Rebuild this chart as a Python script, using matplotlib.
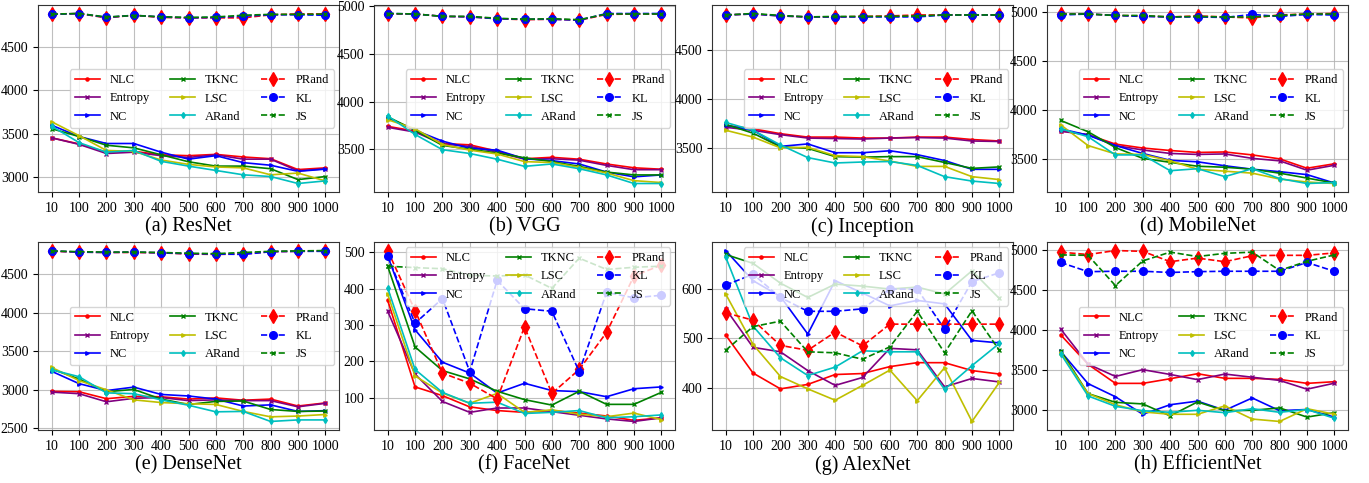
import matplotlib
matplotlib.use("Agg")
import matplotlib.pyplot as plt

plt.rcParams['font.family'] = ['Liberation Serif', 'DejaVu Serif']

x_labels = ['10', '100', '200', '300', '400', '500', '600', '700', '800', '900', '1000']
methods = ['NLC', 'Entropy', 'NC', 'TKNC', 'LSC', 'ARand', 'PRand', 'KL', 'JS']
titles = ['(a) ResNet', '(b) VGG', '(c) Inception', '(d) MobileNet',
          '(e) DenseNet', '(f) FaceNet', '(g) AlexNet', '(h) EfficientNet']

resnet = {
    'NLC':     [3455, 3385, 3290, 3300, 3260, 3250, 3265, 3235, 3215, 3090, 3110],
    'Entropy': [3455, 3380, 3275, 3290, 3250, 3230, 3260, 3210, 3210, 3075, 3100],
    'NC':      [3600, 3470, 3390, 3390, 3290, 3210, 3250, 3170, 3140, 3070, 3095],
    'TKNC':    [3560, 3470, 3370, 3340, 3260, 3180, 3130, 3130, 3100, 2975, 3010],
    'LSC':     [3640, 3480, 3310, 3300, 3200, 3150, 3120, 3110, 3030, 3050, 2960],
    'ARand':   [3590, 3400, 3290, 3310, 3185, 3130, 3080, 3030, 3010, 2930, 2960],
    'PRand':   [4875, 4885, 4835, 4865, 4840, 4835, 4835, 4835, 4870, 4880, 4880],
    'KL':      [4875, 4885, 4840, 4865, 4845, 4835, 4840, 4855, 4870, 4870, 4865],
    'JS':      [4878, 4885, 4845, 4862, 4848, 4840, 4845, 4865, 4875, 4875, 4878],
}
vgg = {
    'NLC':     [3740, 3690, 3560, 3546, 3480, 3400, 3415, 3395, 3345, 3305, 3290],
    'Entropy': [3730, 3680, 3555, 3530, 3470, 3395, 3400, 3385, 3330, 3285, 3285],
    'NC':      [3830, 3700, 3585, 3510, 3490, 3400, 3380, 3345, 3260, 3210, 3230],
    'TKNC':    [3840, 3700, 3540, 3500, 3460, 3410, 3370, 3320, 3260, 3230, 3230],
    'LSC':     [3810, 3715, 3550, 3490, 3450, 3370, 3360, 3310, 3250, 3170, 3150],
    'ARand':   [3850, 3655, 3495, 3455, 3395, 3320, 3345, 3295, 3230, 3140, 3140],
    'PRand':   [4920, 4920, 4895, 4890, 4870, 4860, 4865, 4855, 4915, 4920, 4920],
    'KL':      [4925, 4920, 4895, 4890, 4870, 4865, 4865, 4855, 4925, 4925, 4925],
    'JS':      [4925, 4920, 4895, 4895, 4875, 4865, 4870, 4860, 4920, 4920, 4920],
}
inception = {
    'NLC':     [3730, 3695, 3645, 3610, 3610, 3600, 3600, 3610, 3610, 3585, 3570],
    'Entropy': [3710, 3680, 3635, 3600, 3595, 3590, 3600, 3605, 3600, 3570, 3565],
    'NC':      [3730, 3680, 3515, 3540, 3450, 3450, 3470, 3430, 3370, 3280, 3280],
    'TKNC':    [3740, 3650, 3510, 3495, 3410, 3405, 3410, 3410, 3350, 3290, 3305],
    'LSC':     [3680, 3610, 3500, 3505, 3420, 3410, 3365, 3310, 3310, 3205, 3175],
    'ARand':   [3760, 3680, 3530, 3400, 3345, 3355, 3360, 3320, 3205, 3160, 3135],
    'PRand':   [4860, 4870, 4850, 4840, 4840, 4845, 4850, 4860, 4860, 4860, 4860],
    'KL':      [4860, 4870, 4850, 4840, 4840, 4840, 4840, 4840, 4860, 4860, 4860],
    'JS':      [4860, 4875, 4855, 4840, 4845, 4845, 4845, 4850, 4860, 4860, 4860],
}
mobilenet = {
    'NLC':     [3790, 3750, 3655, 3615, 3590, 3570, 3575, 3545, 3505, 3410, 3455],
    'Entropy': [3785, 3750, 3640, 3595, 3560, 3550, 3555, 3510, 3485, 3390, 3440],
    'NC':      [3810, 3745, 3640, 3560, 3490, 3475, 3435, 3400, 3375, 3345, 3260],
    'TKNC':    [3895, 3780, 3620, 3510, 3470, 3430, 3420, 3400, 3360, 3310, 3260],
    'LSC':     [3850, 3640, 3555, 3550, 3485, 3400, 3380, 3360, 3300, 3270, 3255],
    'ARand':   [3810, 3730, 3545, 3545, 3385, 3405, 3325, 3405, 3305, 3255, 3265],
    'PRand':   [4975, 4975, 4960, 4955, 4945, 4955, 4945, 4935, 4965, 4975, 4980],
    'KL':      [4965, 4975, 4960, 4950, 4945, 4945, 4940, 4970, 4950, 4970, 4965],
    'JS':      [4975, 4975, 4960, 4960, 4945, 4950, 4945, 4945, 4960, 4975, 4975],
}
densenet = {
    'NLC':     [2980, 2975, 2885, 2915, 2910, 2880, 2895, 2865, 2880, 2790, 2830],
    'Entropy': [2970, 2950, 2845, 2890, 2900, 2860, 2870, 2860, 2860, 2780, 2825],
    'NC':      [3240, 3080, 2990, 3035, 2940, 2920, 2880, 2790, 2805, 2720, 2730],
    'TKNC':    [3270, 3140, 2975, 3005, 2880, 2810, 2850, 2855, 2745, 2720, 2725],
    'LSC':     [3290, 3120, 3000, 2870, 2835, 2820, 2810, 2720, 2650, 2660, 2680],
    'ARand':   [3260, 3170, 2960, 2950, 2870, 2800, 2715, 2720, 2590, 2610, 2610],
    'PRand':   [4795, 4785, 4780, 4780, 4775, 4760, 4755, 4760, 4790, 4795, 4800],
    'KL':      [4800, 4785, 4780, 4785, 4775, 4765, 4760, 4755, 4790, 4795, 4795],
    'JS':      [4800, 4790, 4785, 4785, 4780, 4770, 4765, 4780, 4795, 4800, 4805],
}
facenet = {
    'NLC':     [368, 130, 106, 75, 65, 60, 65, 58, 50, 38, 45],
    'Entropy': [338, 165, 90, 60, 72, 72, 62, 52, 42, 35, 45],
    'NC':      [490, 287, 198, 168, 113, 140, 120, 117, 103, 125, 130],
    'TKNC':    [462, 240, 175, 152, 118, 95, 80, 118, 82, 82, 115],
    'LSC':     [385, 160, 113, 85, 112, 60, 67, 55, 48, 58, 40],
    'ARand':   [402, 178, 115, 85, 88, 57, 60, 65, 45, 48, 53],
    'PRand':   [505, 340, 168, 140, 97, 295, 112, 178, 280, 435, 465],
    'KL':      [490, 305, 373, 172, 423, 345, 338, 172, 390, 375, 382],
    'JS':      [462, 458, 455, 437, 435, 438, 401, 484, 453, 459, 462],
}
alexnet = {
    'NLC':     [507, 430, 398, 407, 427, 429, 443, 451, 451, 435, 428],
    'Entropy': [560, 482, 473, 435, 405, 421, 480, 477, 402, 419, 412],
    'NC':      [678, 617, 585, 509, 617, 592, 566, 577, 570, 496, 491],
    'TKNC':    [670, 652, 612, 583, 610, 606, 600, 604, 590, 637, 581],
    'LSC':     [590, 488, 423, 398, 375, 405, 436, 374, 441, 332, 411],
    'ARand':   [665, 525, 461, 425, 442, 475, 473, 473, 397, 445, 490],
    'PRand':   [552, 537, 486, 476, 513, 485, 529, 529, 529, 529, 529],
    'KL':      [608, 630, 583, 555, 555, 560, 600, 600, 519, 615, 633],
    'JS':      [476, 524, 535, 473, 471, 458, 483, 555, 471, 556, 476],
}
efficientnet = {
    'NLC':     [3937, 3567, 3328, 3328, 3386, 3449, 3391, 3391, 3378, 3328, 3349],
    'Entropy': [4010, 3570, 3415, 3500, 3440, 3375, 3445, 3405, 3365, 3255, 3330],
    'NC':      [3730, 3325, 3160, 2940, 3060, 3105, 2990, 3145, 2985, 3000, 2905],
    'TKNC':    [3740, 3200, 3090, 3070, 2920, 3095, 2985, 2990, 3020, 2905, 2960],
    'LSC':     [3710, 3200, 3060, 2970, 2940, 2940, 3045, 2880, 2850, 3010, 2940],
    'ARand':   [3700, 3170, 3040, 2985, 2965, 2990, 2960, 3010, 2965, 3000, 2890],
    'PRand':   [4975, 4945, 4995, 4985, 4855, 4900, 4855, 4930, 4935, 4935, 4965],
    'KL':      [4845, 4730, 4735, 4735, 4720, 4730, 4735, 4735, 4735, 4845, 4735],
    'JS':      [4940, 4935, 4555, 4865, 4975, 4920, 4960, 4975, 4745, 4860, 4940],
}

models = [resnet, vgg, inception, mobilenet, densenet, facenet, alexnet, efficientnet]
legend_locs = ['center right'] * 5 + ['upper right', 'upper right', 'center right']

styles = {
    'NLC':     dict(color='r', linestyle='-', marker='.', markersize=4.5),
    'Entropy': dict(color='purple', linestyle='-', marker='x', markersize=2.5),
    'NC':      dict(color='b', linestyle='-', marker='>', markersize=2.5),
    'TKNC':    dict(color='g', linestyle='-', marker='x', markersize=2.5),
    'LSC':     dict(color='y', linestyle='-', marker='>', markersize=2.5),
    'ARand':   dict(color='c', linestyle='-', marker='d', markersize=3),
    'PRand':   dict(color='r', linestyle='--', marker='d', markersize=7),
    'KL':      dict(color='b', linestyle='--', marker='o', markersize=5.5),
    'JS':      dict(color='g', linestyle='--', marker='x', markersize=2.5),
}

W, H = 1369, 483
fig = plt.figure(figsize=(W / 100, H / 100), dpi=100)

lefts = [38, 374, 712, 1047]
width = 301
rows = [(5, 192), (242, 430)]

xs = list(range(len(x_labels)))
for i, (data, title, loc) in enumerate(zip(models, titles, legend_locs)):
    r, c = divmod(i, 4)
    top, bottom = rows[r]
    ax = fig.add_axes([lefts[c] / W, 1 - bottom / H, width / W, (bottom - top) / H])
    for m in methods:
        ax.plot(xs, data[m], label=m, linewidth=1.2, **styles[m])
    ax.set_xticks(xs)
    ax.set_xticklabels(x_labels)
    ax.tick_params(labelsize=10)
    ax.grid(True, color='#b0b0b0', linewidth=0.8, alpha=0.8)
    ax.set_axisbelow(True)
    for s in ax.spines.values():
        s.set_edgecolor('#333333')
    ax.set_xlabel(title, fontsize=14.5, labelpad=2)
    ax.legend(loc=loc, ncol=3, fontsize=9, borderaxespad=0.4, columnspacing=1.6)

fig.savefig('out.png', dpi=100)
